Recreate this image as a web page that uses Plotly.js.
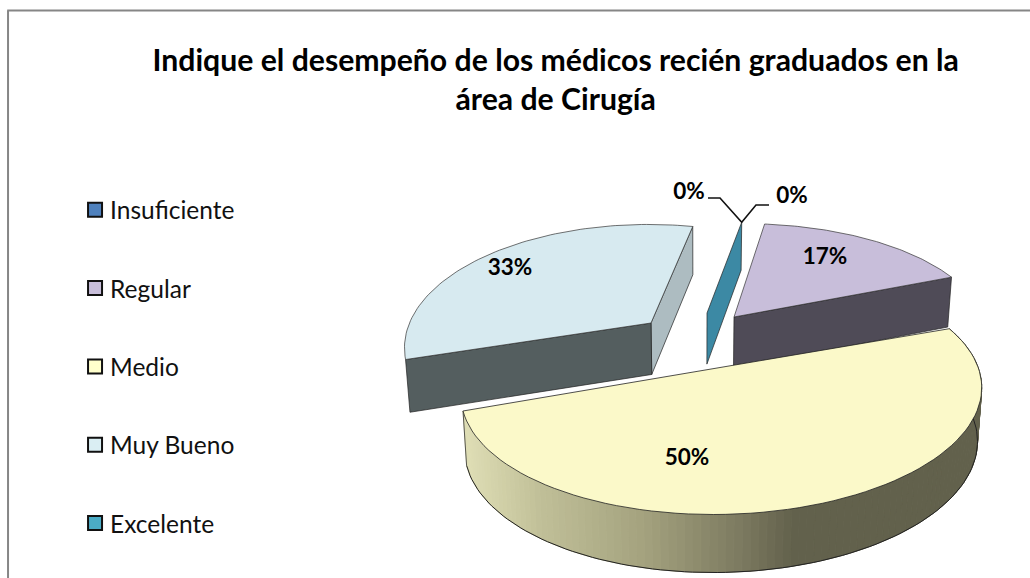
<!DOCTYPE html>
<html><head><meta charset="utf-8">
<script src="https://cdn.plot.ly/plotly-3.0.1.min.js"></script>
<style>html,body{margin:0;padding:0;background:#fff}#c{width:1030px;height:578px}</style>
</head><body><div id="c"></div>
<script>
// ---- data ----
const categories = ['Insuficiente','Regular','Medio','Muy Bueno','Excelente'];
const values = [0,17,50,33,0];
const titleLines = ['Indique el desempeño de los médicos recién graduados en la','área de Cirugía'];
// ---- styling ----
const legendColors = ['#4F81BD','#C8BEDA','#FFFFCC','#DAEEF3','#4BACC6'];
const topColors = ['#4F81BD','#C8BEDA','#FBF9C9','#D7EAF0','#3C89A4'];
const startAngle = 8.5;          // degrees clockwise from the rear
const persp = 0.2;               // perspective of the tilted disc
// pixel placement of each exploded wedge: centre, radii, skews
const wedgeCx = [707,734,723,651,707];
const wedgeCy = [313,317,367,323,313];
const wedgeA  = [248,248,255,238,248];
const wedgeB  = [110,112,118,118,110];
const wedgeS  = [5,0,8,15,5];
const wedgeT  = [0,4,0,-7.4,0];
const labelX = [792,825,687,510,689];
const labelY = [197,258,459,269,193];
const gradX = [467,540,640,740,793,990];
const gradC = [[222,221,180],[192,191,152],[165,163,127],[124,122,96],[98,97,76],[98,97,76]];

function proj(i,deg,r){
  const t=deg*Math.PI/180, x=r*Math.sin(t), y=r*Math.cos(t), w=1+persp*y;
  return [wedgeCx[i]+(wedgeA[i]*x+wedgeS[i]*y)/w, wedgeCy[i]-(wedgeB[i]*y+wedgeT[i]*x)/w];
}
function drop(p){
  const d=48+(p[1]-222)*10/292;
  return [p[0]+(700-p[0])*0.015, p[1]+d];
}
function gradColor(x){
  let k=0; while(k<gradX.length-2 && x>gradX[k+1]) k++;
  const f=Math.max(0,Math.min(1,(x-gradX[k])/(gradX[k+1]-gradX[k])));
  const c=gradC[k].map((v,j)=>Math.round(v+(gradC[k+1][j]-v)*f));
  return 'rgb('+c.join(',')+')';
}
const traces=[];
function poly(pts,fill,lineC,lineW){
  traces.push({type:'scatter',mode:'lines',x:pts.map(p=>p[0]),y:pts.map(p=>p[1]),
    fill:'toself',fillcolor:fill,line:{color:lineC||fill,width:lineW===undefined?1:lineW},
    showlegend:false,hoverinfo:'skip'});
}
function line(pts,c,w){
  traces.push({type:'scatter',mode:'lines',x:pts.map(p=>p[0]),y:pts.map(p=>p[1]),
    line:{color:c,width:w},showlegend:false,hoverinfo:'skip'});
}
const total=values.reduce((a,b)=>a+b,0);
const start=[],end=[];
let acc=startAngle;
values.forEach((v,i)=>{start[i]=acc; acc+=v/total*360; end[i]=acc;});
function wedgeTop(i){
  const pts=[proj(i,0,0)];
  for(let k=0;k<=80;k++) pts.push(proj(i,start[i]+(end[i]-start[i])*k/80,1));
  pts.push(proj(i,0,0));
  return pts;
}
function face(i,deg,color){
  const c=proj(i,0,0), o=proj(i,deg,1);
  poly([c,o,drop(o),drop(c),c],color,'#222',0.7);
}
// Muy Bueno, at the rear left
face(3,end[3],'#ADBCC1');
face(3,start[3],'#545E5F');
poly(wedgeTop(3),topColors[3],'#333',0.7);
// the two empty categories: a flat sliver with only a cut face
face(4,start[4],topColors[4]);
// Regular
face(1,end[1],'#4F4B57');
poly(wedgeTop(1),topColors[1],'#333',0.7);
// Medio, rim with a horizontal light gradient
const steps=120;
for(let k=0;k<steps;k++){
  const a0=start[2]+(end[2]-start[2])*k/steps, a1=start[2]+(end[2]-start[2])*(k+1)/steps;
  const p0=proj(2,a0,1), p1=proj(2,a1,1);
  poly([p0,p1,drop(p1),drop(p0),p0],gradColor((p0[0]+p1[0])/2));
}
const rimBottom=[];
for(let k=0;k<=steps;k++) rimBottom.push(drop(proj(2,start[2]+(end[2]-start[2])*k/steps,1)));
line(rimBottom,'#222',1);
line([proj(2,end[2],1),drop(proj(2,end[2],1))],'#333',0.8);
poly(wedgeTop(2),topColors[2],'#222',0.8);
// leader lines of the two 0% labels
const apex=proj(4,start[4],1);
line([[708,198],[720,198],apex,[756,205],[769,205]],'#111',1.6);
// value labels
traces.push({type:'scatter',mode:'text',x:labelX,y:labelY,text:values.map(v=>v+'%'),
  textposition:'middle center',textfont:{family:'Lato, sans-serif',size:22.5,color:'#000',weight:700},
  showlegend:false,hoverinfo:'skip'});
// legend entries
categories.forEach((c,i)=>traces.push({type:'scatter',mode:'markers',x:[null],y:[null],name:c,legendgroup:c,
  marker:{symbol:'square',size:14,color:legendColors[i],line:{color:'#111',width:2}}}));

Plotly.newPlot('c',traces,{
  width:1030,height:578,paper_bgcolor:'#fff',plot_bgcolor:'#fff',
  margin:{l:0,r:0,t:0,b:0},
  xaxis:{range:[0,1030],visible:false,fixedrange:true},
  yaxis:{range:[578,0],visible:false,fixedrange:true},
  title:{text:titleLines.join('<br>'),x:0.5395,xanchor:'center',xref:'paper',y:0.878,yref:'container',yanchor:'middle',
    font:{family:'Lato, sans-serif',size:30.2,color:'#000',weight:700}},
  legend:{x:0.068,y:0.676,xanchor:'left',yanchor:'top',tracegroupgap:43.5,font:{family:'Lato, sans-serif',size:24.5,color:'#111'},bgcolor:'rgba(0,0,0,0)',itemwidth:30},
  shapes:[
    {type:'line',xref:'paper',yref:'paper',x0:0.0078,x1:0.0078,y0:0,y1:0.982,line:{color:'#868686',width:2}},
    {type:'line',xref:'paper',yref:'paper',x0:0.007,x1:1,y0:0.982,y1:0.982,line:{color:'#868686',width:2}}
  ]
},{displayModeBar:false,staticPlot:true}).then(()=>{
  document.querySelectorAll('#c .legendsymbols').forEach(g=>g.setAttribute('transform','translate(5,0)'));
});
</script></body></html>
